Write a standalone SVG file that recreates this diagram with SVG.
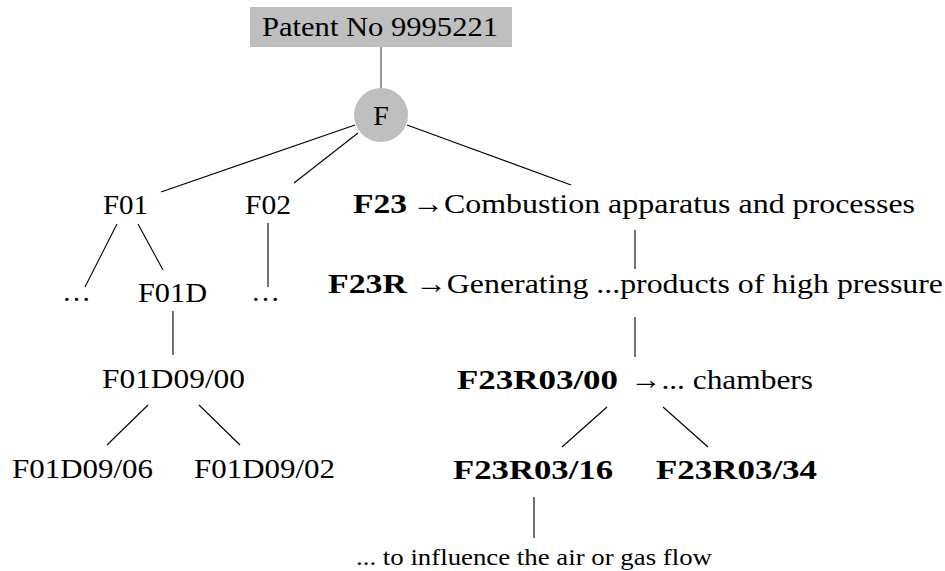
<svg xmlns="http://www.w3.org/2000/svg" width="945" height="571" viewBox="0 0 945 571">
<style>
text{font-family:"Liberation Serif","DejaVu Serif",serif;font-size:28px;fill:#000}
.b{font-weight:bold}
.s{font-size:23px}
.e line{stroke:#000;stroke-width:1.1}
.g{fill:#bfbfbf}
</style>
<rect width="945" height="571" fill="#fff"/>
<g class="e" id="connectors">
<line x1="381" y1="47" x2="381" y2="88" style="stroke:#707070;stroke-width:1.4"/>
<line x1="355" y1="125" x2="161" y2="192"/>
<line x1="358" y1="133" x2="294" y2="183"/>
<line x1="407" y1="125" x2="571" y2="185"/>
<line x1="117" y1="224" x2="85" y2="287"/>
<line x1="138" y1="224" x2="163" y2="270"/>
<line x1="268" y1="223" x2="268" y2="287"/>
<line x1="173" y1="311" x2="173" y2="355"/>
<line x1="148" y1="405" x2="107" y2="445"/>
<line x1="199" y1="405" x2="240" y2="445"/>
<line x1="635" y1="230" x2="635" y2="269"/>
<line x1="635" y1="317" x2="635" y2="357"/>
<line x1="607" y1="407" x2="562" y2="447"/>
<line x1="663" y1="407" x2="708" y2="447"/>
<line x1="534" y1="497" x2="534" y2="538"/>
</g>
<g id="patent"><rect class="g" x="250" y="7" width="262" height="40"/><text x="262" y="36" textLength="236" lengthAdjust="spacingAndGlyphs">Patent No 9995221</text></g>
<g id="F"><circle class="g" cx="381" cy="115" r="27"/><text x="381" y="125" text-anchor="middle">F</text></g>
<g id="F01"><text x="103" y="214" textLength="45" lengthAdjust="spacingAndGlyphs">F01</text></g>
<g id="F02"><text x="245" y="214" textLength="46" lengthAdjust="spacingAndGlyphs">F02</text></g>
<g id="F23"><text class="b" x="353" y="213" textLength="54" lengthAdjust="spacingAndGlyphs">F23</text><text x="412" y="213" textLength="503" lengthAdjust="spacingAndGlyphs">→Combustion apparatus and processes</text></g>
<g id="dots1"><text x="62" y="301" textLength="29" lengthAdjust="spacingAndGlyphs">…</text></g>
<g id="F01D"><text x="138" y="302" textLength="69" lengthAdjust="spacingAndGlyphs">F01D</text></g>
<g id="dots2"><text x="251" y="301" textLength="29" lengthAdjust="spacingAndGlyphs">…</text></g>
<g id="F23R"><text class="b" x="328" y="293" textLength="79" lengthAdjust="spacingAndGlyphs">F23R</text><text x="415" y="293" textLength="528" lengthAdjust="spacingAndGlyphs">→Generating ...products of high pressure</text></g>
<g id="F01D0900"><text x="102" y="388" textLength="143" lengthAdjust="spacingAndGlyphs">F01D09/00</text></g>
<g id="F23R0300"><text class="b" x="457" y="389" textLength="161" lengthAdjust="spacingAndGlyphs">F23R03/00</text><text x="630" y="389" textLength="183" lengthAdjust="spacingAndGlyphs">→... chambers</text></g>
<g id="F01D0906"><text x="12" y="478" textLength="141" lengthAdjust="spacingAndGlyphs">F01D09/06</text></g>
<g id="F01D0902"><text x="194" y="478" textLength="141" lengthAdjust="spacingAndGlyphs">F01D09/02</text></g>
<g id="F23R0316"><text class="b" x="453" y="479" textLength="160" lengthAdjust="spacingAndGlyphs">F23R03/16</text></g>
<g id="F23R0334"><text class="b" x="656" y="479" textLength="161" lengthAdjust="spacingAndGlyphs">F23R03/34</text></g>
<g id="leaf"><text class="s" x="356" y="565" textLength="356" lengthAdjust="spacingAndGlyphs">... to influence the air or gas flow</text></g>
</svg>
